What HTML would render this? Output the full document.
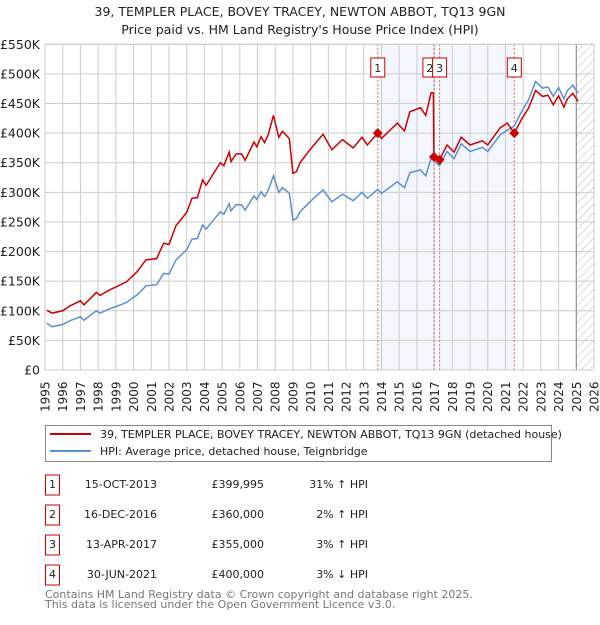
<!DOCTYPE html>
<html><head><meta charset="utf-8"><style>
body{margin:0;background:#fff;font-family:"Liberation Sans","DejaVu Sans",sans-serif;}
svg text{font-family:"DejaVu Sans","Liberation Sans",sans-serif;}
</style></head><body>
<svg id="chart" width="600" height="620" xmlns="http://www.w3.org/2000/svg">
<text x="300" y="16" text-anchor="middle" font-size="12.5" fill="#222">39, TEMPLER PLACE, BOVEY TRACEY, NEWTON ABBOT, TQ13 9GN</text>
<text x="300" y="34" text-anchor="middle" font-size="12.5" fill="#222">Price paid vs. HM Land Registry's House Price Index (HPI)</text>
<defs><pattern id="hatch" width="6" height="6" patternUnits="userSpaceOnUse" patternTransform="rotate(45)"><line x1="0" y1="0" x2="0" y2="6" stroke="#bbb" stroke-width="1"/></pattern></defs>
<g id="plot"></g>
<rect x="45.5" y="425.5" width="506" height="36" fill="#fff" stroke="#888"/>
<line x1="50" y1="434" x2="91" y2="434" stroke="#cc0000" stroke-width="2"/>
<text x="100" y="438" font-size="11" fill="#222">39, TEMPLER PLACE, BOVEY TRACEY, NEWTON ABBOT, TQ13 9GN (detached house)</text>
<line x1="50" y1="451" x2="91" y2="451" stroke="#5b8fd4" stroke-width="2"/>
<text x="100" y="455" font-size="11" fill="#222">HPI: Average price, detached house, Teignbridge</text>
<g id="table" font-size="11" fill="#222"></g>
<text x="45" y="598" font-size="11" fill="#777">Contains HM Land Registry data © Crown copyright and database right 2025.</text>
<text x="45" y="608" font-size="11" fill="#777">This data is licensed under the Open Government Licence v3.0.</text>
</svg>
<script>
const years=[1995.1,1995.4,1996.0,1996.4,1997.0,1997.2,1997.9,1998.1,1998.7,1999.0,1999.6,2000.2,2000.7,2001.3,2001.7,2002.0,2002.4,2003.0,2003.3,2003.6,2003.9,2004.1,2004.5,2004.9,2005.1,2005.4,2005.5,2005.8,2006.1,2006.3,2006.8,2006.96,2007.2,2007.4,2007.6,2007.9,2008.2,2008.4,2008.7,2008.8,2009.0,2009.2,2009.4,2009.96,2010.7,2011.2,2011.8,2012.4,2012.9,2013.2,2013.79,2014.0,2014.9,2015.0,2015.3,2015.6,2016.2,2016.5,2016.8,2016.93,2016.96,2017.28,2017.7,2018.1,2018.5,2019.0,2019.7,2020.0,2020.7,2021.1,2021.5,2021.9,2022.3,2022.7,2023.1,2023.4,2023.7,2024.0,2024.3,2024.5,2024.8,2025.1];
const hpiValues=[79,73,77,83,90,84,100,96,104,107,114,127,142,144,163,162,186,203,221,222,245,238,253,267,263,281,269,279,279,270,294,288,301,293,303,328,300,308,301,298,253,256,267,284,304,284,297,286,300,290,305,298,318,315,308,333,338,328,357,357,353,345,369,357,382,369,376,369,397,405,412,436,456,487,476,478,462,477,458,472,481,468];
const priceValues=[101,96,100,108,117,110,131,126,136,140,149,166,186,188,214,212,244,266,290,291,321,312,331,350,345,368,352,365,365,354,385,377,394,384,397,430,393,403,394,390,332,335,350,372,398,372,389,375,393,380,400,391,417,413,404,436,443,430,468,468,360,355,380,368,393,380,387,380,409,417,400,423,442,472,462,464,448,463,444,458,467,454];
const yTicks=[0,50,100,150,200,250,300,350,400,450,500,550];
const yTickLabels=["£0","£50K","£100K","£150K","£200K","£250K","£300K","£350K","£400K","£450K","£500K","£550K"];
const xTicks=[1995,1996,1997,1998,1999,2000,2001,2002,2003,2004,2005,2006,2007,2008,2009,2010,2011,2012,2013,2014,2015,2016,2017,2018,2019,2020,2021,2022,2023,2024,2025,2026];
const saleLabels=["1","2","3","4"];
const saleYears=[2013.79,2016.96,2017.28,2021.5];
const salePrices=[399.995,360,355,400];
const saleDates=["15-OCT-2013","16-DEC-2016","13-APR-2017","30-JUN-2021"];
const salePriceText=["£399,995","£360,000","£355,000","£400,000"];
const saleHpiText=["31% ↑ HPI","2% ↑ HPI","3% ↑ HPI","3% ↓ HPI"];
const X0=45,X1=594,Y0=370,Y1=44.3;
const x=v=>X0+(v-1995)/31*(X1-X0);
const y=v=>Y0-v/550*(Y0-Y1);
const NS="http://www.w3.org/2000/svg";
const plot=document.getElementById('plot');
function mk(tag,attrs,parent){const e=document.createElementNS(NS,tag);for(const k in attrs)e.setAttribute(k,attrs[k]);(parent||plot).appendChild(e);return e;}
let s=mk('rect',{x:x(saleYears[0]),y:Y1,width:x(saleYears[1])-x(saleYears[0]),height:Y0-Y1,fill:'#eef3fc',opacity:0.7});


s=mk('rect',{x:x(saleYears[2]),y:Y1,width:x(saleYears[3])-x(saleYears[2]),height:Y0-Y1,fill:'#eef3fc',opacity:0.7});


s=mk('rect',{x:x(2025.0),y:Y1,width:X1-x(2025.0),height:Y0-Y1,fill:'url(#hatch)'});


yTicks.forEach((t,i)=>{
 mk('line',{x1:X0,x2:X1,y1:y(t),y2:y(t),stroke:'#ccc','stroke-width':1});
 const tx=mk('text',{x:40,y:y(t)+4.5,'text-anchor':'end','font-size':12.5,fill:'#222'});
 tx.textContent=yTickLabels[i];
 
 
});
xTicks.forEach(t=>{
 mk('line',{x1:x(t),x2:x(t),y1:Y1,y2:Y0,stroke:'#ccc','stroke-width':1});
 const tx=mk('text',{transform:`translate(${x(t)+4.5},${Y0+42}) rotate(-90)`,'font-size':12,fill:'#222'});
 tx.textContent=t;
 
 
});
mk('line',{x1:x(2025.0),x2:x(2025.0),y1:Y1,y2:Y0,stroke:'#888','stroke-width':1});
saleYears.forEach((sy,i)=>{
 const l=mk('line',{x1:x(sy),x2:x(sy),y1:Y1,y2:Y0,stroke:'#e06060','stroke-width':1,'stroke-dasharray':'2,2'});
 
 
});
const hp=mk('polyline',{points:years.map((v,i)=>x(v)+','+y(hpiValues[i])).join(' '),fill:'none',stroke:'#5b8fd4','stroke-width':1.5});


const pp=mk('polyline',{points:years.map((v,i)=>x(v)+','+y(priceValues[i])).join(' '),fill:'none',stroke:'#cc0000','stroke-width':1.5});


saleYears.forEach((sy,i)=>{
 const cx=x(sy),cy=y(salePrices[i]);
 const d=mk('polygon',{points:`${cx},${cy-5} ${cx+5},${cy} ${cx},${cy+5} ${cx-5},${cy}`,fill:'#cc0000'});
 
 
 const bx=cx-(i==1?11:7);
 const b=mk('rect',{x:bx,y:58,width:14,height:19,fill:'#fff',stroke:'#cc0000'});
 
 
 const t=mk('text',{x:bx+7,y:72,'text-anchor':'middle','font-size':11,fill:'#222'});
 t.textContent=saleLabels[i];
 
 
});
mk('rect',{x:X0,y:Y1,width:X1-X0,height:Y0-Y1,fill:'none',stroke:'#ccc'});
const tb=document.getElementById('table');
saleLabels.forEach((lab,i)=>{
 const ry=485+i*30;
 const r=mk('rect',{x:45.5,y:ry-10,width:14,height:20,fill:'#fff',stroke:'#cc0000'},tb);
 
 
 const cells=[[52.5,lab,'middle'],[157,saleDates[i],'end'],[264,salePriceText[i],'end'],[368,saleHpiText[i],'end']];
 cells.forEach(c=>{
  const t=mk('text',{x:c[0],y:ry+3,'text-anchor':c[2]},tb);
  t.textContent=c[1];
  
  
 });
});
</script>
</body></html>
